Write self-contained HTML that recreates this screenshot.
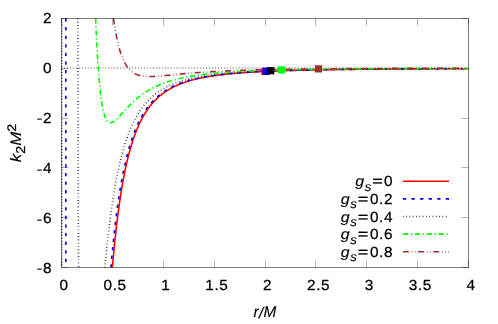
<!DOCTYPE html>
<html><head><meta charset="utf-8"><title>k2 plot</title>
<style>html,body{margin:0;padding:0;background:#fff;}svg{display:block;}</style></head>
<body>
<svg width="498" height="324" viewBox="0 0 498 324">
<rect width="498" height="324" fill="#fff"/>
<g stroke="#000" stroke-width="0.7" stroke-dasharray="1 1.96" fill="none">
<path d="M61.04 68.0H468.50"/>
<path d="M61.95 267.50V18.50" stroke-width="1" stroke-dashoffset="0.86"/>
</g>
<path d="M112.50 267.5v-7.0M112.50 18.5v7.0M163.50 267.5v-7.0M163.50 18.5v7.0M214.50 267.5v-7.0M214.50 18.5v7.0M265.50 267.5v-7.0M265.50 18.5v7.0M315.50 267.5v-7.0M315.50 18.5v7.0M366.50 267.5v-7.0M366.50 18.5v7.0M417.50 267.5v-7.0M417.50 18.5v7.0M61.5 267.5v-7.0M61.5 18.5v7.0M468.5 267.5v-7.0M468.5 18.5v7.0M61.5 18.50h7.0M468.5 18.50h-7.0M61.5 68.50h7.0M468.5 68.50h-7.0M61.5 118.50h7.0M468.5 118.50h-7.0M61.5 167.50h7.0M468.5 167.50h-7.0M61.5 217.50h7.0M468.5 217.50h-7.0M61.5 267.50h7.0M468.5 267.50h-7.0" stroke="#000" stroke-width="0.5" stroke-opacity="0.62" fill="none"/>
<g stroke="#ff0000" stroke-width="1.6" fill="none" stroke-linejoin="round">
<path d="M112.38 267.50 L112.48 266.31 L112.58 265.13 L112.68 263.96 L112.78 262.79 L112.88 261.64 L112.99 260.50 L113.09 259.36 L113.19 258.24 L113.29 257.12 L113.39 256.01 L113.49 254.91 L113.60 253.82 L113.70 252.74 L113.80 251.66 L113.90 250.60 L114.00 249.54 L114.10 248.49 L114.21 247.45 L114.31 246.41 L114.41 245.39 L114.51 244.37 L114.61 243.36 L114.72 242.36 L114.82 241.36 L114.92 240.38 L115.02 239.40 L115.12 238.42 L115.22 237.46 L115.33 236.50 L115.43 235.55 L115.53 234.61 L115.63 233.67 L115.73 232.74 L115.83 231.82 L115.94 230.91 L116.04 230.00 L116.14 229.10 L116.24 228.20 L116.34 227.31 L116.44 226.43 L116.55 225.56 L116.65 224.69 L116.75 223.82 L116.85 222.97 L116.95 222.12 L117.06 221.28 L117.16 220.44 L117.26 219.61 L117.36 218.78 L117.46 217.96 L117.56 217.15 L117.67 216.34 L117.77 215.54 L117.87 214.74 L117.97 213.95 L118.07 213.17 L118.17 212.39 L118.28 211.62 L118.38 210.85 L118.48 210.09 L118.58 209.33 L118.68 208.58 L118.79 207.83 L118.89 207.09 L118.99 206.36 L119.09 205.63 L119.19 204.90 L119.29 204.18 L119.40 203.46 L119.50 202.75 L119.60 202.05 L119.70 201.35 L119.80 200.65 L119.90 199.96 L120.01 199.28 L120.11 198.60 L120.21 197.92 L120.31 197.25 L120.41 196.58 L120.51 195.92 L120.62 195.26 L120.72 194.61 L120.82 193.96 L120.92 193.31 L121.02 192.67 L121.13 192.04 L121.23 191.41 L121.33 190.78 L121.43 190.16 L121.53 189.54 L121.63 188.92 L121.74 188.31 L121.84 187.71 L121.94 187.11 L122.04 186.51 L122.14 185.91 L122.24 185.32 L122.35 184.74 L122.45 184.16 L122.55 183.58 L122.65 183.00 L122.75 182.43 L122.86 181.87 L122.96 181.30 L123.06 180.74 L123.16 180.19 L123.26 179.64 L123.36 179.09 L123.47 178.54 L123.57 178.00 L123.67 177.46 L123.77 176.93 L123.87 176.40 L123.97 175.87 L124.08 175.35 L124.18 174.83 L124.28 174.31 L124.38 173.80 L124.48 173.29 L124.59 172.78 L124.69 172.27 L124.79 171.77 L124.89 171.28 L124.99 170.78 L125.09 170.29 L125.30 169.32 L125.50 168.36 L125.70 167.41 L125.91 166.47 L126.11 165.55 L126.31 164.63 L126.52 163.73 L126.72 162.84 L126.93 161.96 L127.13 161.09 L127.33 160.24 L127.54 159.39 L127.74 158.55 L127.94 157.73 L128.15 156.91 L128.35 156.10 L128.55 155.30 L128.76 154.52 L128.96 153.74 L129.16 152.97 L129.37 152.21 L129.57 151.46 L129.77 150.72 L129.98 149.99 L130.18 149.26 L130.38 148.55 L130.59 147.84 L130.79 147.14 L131.00 146.45 L131.20 145.77 L131.40 145.09 L131.61 144.43 L131.81 143.77 L132.01 143.12 L132.22 142.47 L132.42 141.84 L132.62 141.21 L132.83 140.58 L133.03 139.97 L133.23 139.36 L133.44 138.76 L133.64 138.17 L133.84 137.58 L134.05 137.00 L134.25 136.42 L134.45 135.85 L134.66 135.29 L134.86 134.73 L135.07 134.18 L135.27 133.64 L135.47 133.10 L135.68 132.57 L135.88 132.05 L136.08 131.52 L136.29 131.01 L136.49 130.50 L136.69 130.00 L136.90 129.50 L137.10 129.01 L137.30 128.52 L137.51 128.04 L137.71 127.56 L137.91 127.09 L138.12 126.62 L138.32 126.16 L138.52 125.70 L138.83 125.02 L139.14 124.36 L139.44 123.70 L139.75 123.05 L140.05 122.42 L140.36 121.79 L140.66 121.18 L140.97 120.57 L141.27 119.97 L141.58 119.38 L141.88 118.80 L142.19 118.23 L142.49 117.67 L142.80 117.12 L143.10 116.57 L143.41 116.03 L143.71 115.50 L144.02 114.98 L144.32 114.47 L144.63 113.96 L144.94 113.46 L145.24 112.97 L145.55 112.48 L145.85 112.01 L146.16 111.53 L146.46 111.07 L146.77 110.61 L147.07 110.16 L147.38 109.72 L147.68 109.28 L147.99 108.85 L148.29 108.42 L148.60 108.00 L148.90 107.58 L149.21 107.18 L149.51 106.77 L149.82 106.38 L150.23 105.85 L150.63 105.34 L151.04 104.84 L151.45 104.34 L151.85 103.86 L152.26 103.38 L152.67 102.92 L153.07 102.46 L153.48 102.00 L153.89 101.56 L154.30 101.13 L154.70 100.70 L155.11 100.28 L155.52 99.86 L155.92 99.46 L156.33 99.06 L156.74 98.66 L157.14 98.28 L157.55 97.90 L157.96 97.53 L158.37 97.16 L158.77 96.80 L159.18 96.44 L159.59 96.10 L159.99 95.75 L160.40 95.41 L160.81 95.08 L161.22 94.76 L161.62 94.43 L162.03 94.12 L162.44 93.81 L162.84 93.50 L163.25 93.20 L163.66 92.90 L164.06 92.61 L164.57 92.25 L165.08 91.90 L165.59 91.56 L166.10 91.22 L166.61 90.89 L167.12 90.56 L167.63 90.25 L168.13 89.93 L168.64 89.63 L169.15 89.33 L169.66 89.03 L170.17 88.74 L170.68 88.46 L171.19 88.18 L171.70 87.90 L172.20 87.63 L172.71 87.37 L173.22 87.11 L173.73 86.86 L174.24 86.61 L174.75 86.36 L175.26 86.12 L175.77 85.88 L176.27 85.65 L176.78 85.42 L177.29 85.20 L177.80 84.97 L178.31 84.76 L178.82 84.54 L179.33 84.34 L179.84 84.13 L180.34 83.93 L180.85 83.73 L181.36 83.53 L181.87 83.34 L182.38 83.15 L182.89 82.96 L183.40 82.78 L183.91 82.60 L184.41 82.43 L184.92 82.25 L185.43 82.08 L185.94 81.91 L186.45 81.75 L186.96 81.58 L187.47 81.42 L187.98 81.27 L188.48 81.11 L188.99 80.96 L189.50 80.81 L190.01 80.66 L190.52 80.51 L191.03 80.37 L191.54 80.23 L192.05 80.09 L192.55 79.95 L193.06 79.82 L193.57 79.69 L194.08 79.56 L194.59 79.43 L195.10 79.30 L195.61 79.18 L196.12 79.05 L196.62 78.93 L197.13 78.81 L197.64 78.70 L198.15 78.58 L198.66 78.47 L199.17 78.35 L199.68 78.24 L200.19 78.13 L200.69 78.03 L201.20 77.92 L201.71 77.82 L202.22 77.71 L202.73 77.61 L203.24 77.51 L203.75 77.41 L204.26 77.32 L204.76 77.22 L205.27 77.13 L205.78 77.03 L206.29 76.94 L206.80 76.85 L207.31 76.76 L207.82 76.67 L208.33 76.59 L208.83 76.50 L209.34 76.42 L209.85 76.33 L210.36 76.25 L210.87 76.17 L211.38 76.09 L211.89 76.01 L212.40 75.93 L212.90 75.86 L213.41 75.78 L213.92 75.71 L214.43 75.63 L214.94 75.56 L215.45 75.49 L215.96 75.42 L216.47 75.35 L216.97 75.28 L217.48 75.21 L217.99 75.14 L218.50 75.08 L219.01 75.01 L219.52 74.95 L220.03 74.88 L220.54 74.82 L221.04 74.76 L221.55 74.70 L222.06 74.64 L222.57 74.58 L223.08 74.52 L223.59 74.46 L224.10 74.40 L224.61 74.35 L225.11 74.29 L225.62 74.23 L226.13 74.18 L226.64 74.12 L227.15 74.07 L227.66 74.02 L228.17 73.97 L228.68 73.91 L229.18 73.86 L229.69 73.81 L230.20 73.76 L230.71 73.71 L231.22 73.67 L231.73 73.62 L232.24 73.57 L232.75 73.52 L233.25 73.48 L233.76 73.43 L234.27 73.39 L234.78 73.34 L235.29 73.30 L235.80 73.25 L236.31 73.21 L236.82 73.17 L237.32 73.13 L237.83 73.08 L238.34 73.04 L238.85 73.00 L239.36 72.96 L239.87 72.92 L240.38 72.88 L240.89 72.84 L241.39 72.81 L241.90 72.77 L242.41 72.73 L242.92 72.69 L243.43 72.66 L243.94 72.62 L244.45 72.58 L244.96 72.55 L245.46 72.51 L245.97 72.48 L246.48 72.44 L246.99 72.41 L247.50 72.38 L248.01 72.34 L248.52 72.31 L249.03 72.28 L249.53 72.25 L250.04 72.21 L250.55 72.18 L251.06 72.15 L251.57 72.12 L252.08 72.09 L252.59 72.06 L253.10 72.03 L253.60 72.00 L254.11 71.97 L254.62 71.94 L255.13 71.91 L255.64 71.88 L256.15 71.86 L256.66 71.83 L257.17 71.80 L257.67 71.77 L258.18 71.75 L258.69 71.72 L259.20 71.69 L259.71 71.67 L260.22 71.64 L260.73 71.62 L261.24 71.59 L261.74 71.57 L262.25 71.54 L262.76 71.52 L263.27 71.49 L263.78 71.47 L264.29 71.45 L264.80 71.42 L265.31 71.40 L265.81 71.38 L266.32 71.35 L266.83 71.33 L267.34 71.31 L267.85 71.29 L268.36 71.26 L268.87 71.24 L269.38 71.22 L269.88 71.20 L270.39 71.18 L270.90 71.16 L271.41 71.14 L271.92 71.12 L272.43 71.10 L272.94 71.07 L273.45 71.06 L273.95 71.04 L274.46 71.02 L274.97 71.00 L275.48 70.98 L275.99 70.96 L276.50 70.94 L277.01 70.92 L277.52 70.90 L278.02 70.88 L278.53 70.87 L279.04 70.85 L279.55 70.83 L280.06 70.81 L280.57 70.79 L281.08 70.78 L281.59 70.76 L282.09 70.74 L282.60 70.73 L283.11 70.71 L283.62 70.69 L284.13 70.68 L284.64 70.66 L285.15 70.64 L285.66 70.63 L286.16 70.61 L286.67 70.60 L287.18 70.58 L287.69 70.57 L288.20 70.55 L288.71 70.54 L289.22 70.52 L289.73 70.51 L290.23 70.49 L290.74 70.48 L291.25 70.46 L291.76 70.45 L292.27 70.43 L292.78 70.42 L293.29 70.41 L293.80 70.39 L294.30 70.38 L294.81 70.37 L295.32 70.35 L295.83 70.34 L296.34 70.33 L296.85 70.31 L297.36 70.30 L297.87 70.29 L298.37 70.27 L298.88 70.26 L299.39 70.25 L299.90 70.24 L300.41 70.22 L300.92 70.21 L301.43 70.20 L301.94 70.19 L302.44 70.18 L302.95 70.16 L303.46 70.15 L303.97 70.14 L304.48 70.13 L304.99 70.12 L305.50 70.11 L306.01 70.09 L306.51 70.08 L307.02 70.07 L307.53 70.06 L308.04 70.05 L308.55 70.04 L309.06 70.03 L309.57 70.02 L310.08 70.01 L310.58 70.00 L311.09 69.99 L311.60 69.98 L312.11 69.97 L312.62 69.96 L313.13 69.95 L313.64 69.94 L314.15 69.93 L314.65 69.92 L315.16 69.91 L315.67 69.90 L316.18 69.89 L316.69 69.88 L317.20 69.87 L317.71 69.86 L318.22 69.85 L318.72 69.84 L319.23 69.83 L319.74 69.82 L320.25 69.81 L320.76 69.81 L321.27 69.80 L321.78 69.79 L322.29 69.78 L322.79 69.77 L323.30 69.76 L323.81 69.75 L324.32 69.74 L324.83 69.74 L325.34 69.73 L325.85 69.72 L326.36 69.71 L326.86 69.70 L327.37 69.70 L327.88 69.69 L328.39 69.68 L328.90 69.67 L329.41 69.66 L329.92 69.66 L330.43 69.65 L330.93 69.64 L331.44 69.63 L331.95 69.63 L332.46 69.62 L332.97 69.61 L333.48 69.60 L333.99 69.60 L334.50 69.59 L335.00 69.58 L335.51 69.57 L336.02 69.57 L336.53 69.56 L337.04 69.55 L337.55 69.55 L338.06 69.54 L338.57 69.53 L339.07 69.53 L339.58 69.52 L340.09 69.51 L340.60 69.51 L341.11 69.50 L341.62 69.49 L342.13 69.49 L342.64 69.48 L343.14 69.47 L343.65 69.47 L344.16 69.46 L344.67 69.46 L345.18 69.45 L345.69 69.44 L346.20 69.44 L346.71 69.43 L347.21 69.42 L347.72 69.42 L348.23 69.41 L348.74 69.41 L349.25 69.40 L349.76 69.40 L350.27 69.39 L350.78 69.38 L351.28 69.38 L351.79 69.37 L352.30 69.37 L352.81 69.36 L353.32 69.36 L353.83 69.35 L354.34 69.34 L354.85 69.34 L355.35 69.33 L355.86 69.33 L356.37 69.32 L356.88 69.32 L357.39 69.31 L357.90 69.31 L358.41 69.30 L358.92 69.30 L359.42 69.29 L359.93 69.29 L360.44 69.28 L360.95 69.28 L361.46 69.27 L361.97 69.27 L362.48 69.26 L362.99 69.26 L363.49 69.25 L364.00 69.25 L364.51 69.24 L365.02 69.24 L365.53 69.23 L366.04 69.23 L366.55 69.22 L367.06 69.22 L367.56 69.21 L368.07 69.21 L368.58 69.21 L369.09 69.20 L369.60 69.20 L370.11 69.19 L370.62 69.19 L371.13 69.18 L371.63 69.18 L372.14 69.18 L372.65 69.17 L373.16 69.17 L373.67 69.16 L374.18 69.16 L374.69 69.15 L375.20 69.15 L375.70 69.15 L376.21 69.14 L376.72 69.14 L377.23 69.13 L377.74 69.13 L378.25 69.13 L378.76 69.12 L379.27 69.12 L379.77 69.11 L380.28 69.11 L380.79 69.11 L381.30 69.10 L381.81 69.10 L382.32 69.09 L382.83 69.09 L383.34 69.09 L383.84 69.08 L384.35 69.08 L384.86 69.08 L385.37 69.07 L385.88 69.07 L386.39 69.06 L386.90 69.06 L387.41 69.06 L387.91 69.05 L388.42 69.05 L388.93 69.05 L389.44 69.04 L389.95 69.04 L390.46 69.04 L390.97 69.03 L391.48 69.03 L391.98 69.03 L392.49 69.02 L393.00 69.02 L393.51 69.02 L394.02 69.01 L394.53 69.01 L395.04 69.01 L395.55 69.00 L396.05 69.00 L396.56 69.00 L397.07 68.99 L397.58 68.99 L398.09 68.99 L398.60 68.98 L399.11 68.98 L399.62 68.98 L400.12 68.98 L400.63 68.97 L401.14 68.97 L401.65 68.97 L402.16 68.96 L402.67 68.96 L403.18 68.96 L403.69 68.95 L404.19 68.95 L404.70 68.95 L405.21 68.95 L405.72 68.94 L406.23 68.94 L406.74 68.94 L407.25 68.93 L407.76 68.93 L408.26 68.93 L408.77 68.93 L409.28 68.92 L409.79 68.92 L410.30 68.92 L410.81 68.92 L411.32 68.91 L411.83 68.91 L412.33 68.91 L412.84 68.90 L413.35 68.90 L413.86 68.90 L414.37 68.90 L414.88 68.89 L415.39 68.89 L415.90 68.89 L416.40 68.89 L416.91 68.88 L417.42 68.88 L417.93 68.88 L418.44 68.88 L418.95 68.87 L419.46 68.87 L419.97 68.87 L420.47 68.87 L420.98 68.86 L421.49 68.86 L422.00 68.86 L422.51 68.86 L423.02 68.86 L423.53 68.85 L424.04 68.85 L424.54 68.85 L425.05 68.85 L425.56 68.84 L426.07 68.84 L426.58 68.84 L427.09 68.84 L427.60 68.83 L428.11 68.83 L428.61 68.83 L429.12 68.83 L429.63 68.83 L430.14 68.82 L430.65 68.82 L431.16 68.82 L431.67 68.82 L432.18 68.82 L432.68 68.81 L433.19 68.81 L433.70 68.81 L434.21 68.81 L434.72 68.80 L435.23 68.80 L435.74 68.80 L436.25 68.80 L436.75 68.80 L437.26 68.79 L437.77 68.79 L438.28 68.79 L438.79 68.79 L439.30 68.79 L439.81 68.78 L440.32 68.78 L440.82 68.78 L441.33 68.78 L441.84 68.78 L442.35 68.77 L442.86 68.77 L443.37 68.77 L443.88 68.77 L444.39 68.77 L444.89 68.77 L445.40 68.76 L445.91 68.76 L446.42 68.76 L446.93 68.76 L447.44 68.76 L447.95 68.75 L448.46 68.75 L448.96 68.75 L449.47 68.75 L449.98 68.75 L450.49 68.75 L451.00 68.74 L451.51 68.74 L452.02 68.74 L452.53 68.74 L453.03 68.74 L453.54 68.74 L454.05 68.73 L454.56 68.73 L455.07 68.73 L455.58 68.73 L456.09 68.73 L456.60 68.73 L457.10 68.72 L457.61 68.72 L458.12 68.72 L458.63 68.72 L459.14 68.72 L459.65 68.72 L460.16 68.71 L460.67 68.71 L461.17 68.71 L461.68 68.71 L462.19 68.71 L462.70 68.71 L463.21 68.70 L463.72 68.70 L464.23 68.70 L464.74 68.70 L465.24 68.70 L465.75 68.70 L466.26 68.70 L466.77 68.69 L467.28 68.69 L467.79 68.69 L468.30 68.69 L468.50 68.69"/>
<path d="M402.9 181.30H449.0"/>
</g>
<g stroke="#0000ff" stroke-width="1.6" fill="none" stroke-linejoin="round" stroke-dasharray="3.30 5.28">
<path d="M65.85 18.50 L65.85 66.12 L65.85 267.50"/>
<path d="M110.92 267.50 L111.05 266.00 L111.15 264.82 L111.26 263.65 L111.36 262.49 L111.46 261.34 L111.56 260.20 L111.66 259.07 L111.76 257.95 L111.87 256.83 L111.97 255.73 L112.07 254.63 L112.17 253.54 L112.27 252.46 L112.38 251.39 L112.48 250.33 L112.58 249.27 L112.68 248.22 L112.78 247.19 L112.88 246.15 L112.99 245.13 L113.09 244.12 L113.19 243.11 L113.29 242.11 L113.39 241.12 L113.49 240.13 L113.60 239.16 L113.70 238.19 L113.80 237.22 L113.90 236.27 L114.00 235.32 L114.10 234.38 L114.21 233.45 L114.31 232.52 L114.41 231.60 L114.51 230.69 L114.61 229.78 L114.72 228.88 L114.82 227.99 L114.92 227.10 L115.02 226.22 L115.12 225.35 L115.22 224.48 L115.33 223.62 L115.43 222.76 L115.53 221.92 L115.63 221.08 L115.73 220.24 L115.83 219.41 L115.94 218.59 L116.04 217.77 L116.14 216.96 L116.24 216.15 L116.34 215.35 L116.44 214.56 L116.55 213.77 L116.65 212.99 L116.75 212.21 L116.85 211.44 L116.95 210.67 L117.06 209.91 L117.16 209.15 L117.26 208.40 L117.36 207.66 L117.46 206.92 L117.56 206.18 L117.67 205.46 L117.77 204.73 L117.87 204.01 L117.97 203.30 L118.07 202.59 L118.17 201.89 L118.28 201.19 L118.38 200.49 L118.48 199.80 L118.58 199.12 L118.68 198.44 L118.79 197.76 L118.89 197.09 L118.99 196.43 L119.09 195.77 L119.19 195.11 L119.29 194.46 L119.40 193.81 L119.50 193.17 L119.60 192.53 L119.70 191.89 L119.80 191.26 L119.90 190.64 L120.01 190.01 L120.11 189.40 L120.21 188.78 L120.31 188.17 L120.41 187.57 L120.51 186.97 L120.62 186.37 L120.72 185.78 L120.82 185.19 L120.92 184.60 L121.02 184.02 L121.13 183.44 L121.23 182.87 L121.33 182.30 L121.43 181.73 L121.53 181.17 L121.63 180.61 L121.74 180.06 L121.84 179.51 L121.94 178.96 L122.04 178.42 L122.14 177.87 L122.24 177.34 L122.35 176.80 L122.45 176.27 L122.55 175.75 L122.65 175.22 L122.75 174.70 L122.86 174.19 L122.96 173.67 L123.06 173.16 L123.16 172.66 L123.26 172.16 L123.36 171.65 L123.47 171.16 L123.57 170.66 L123.67 170.17 L123.87 169.20 L124.08 168.24 L124.28 167.30 L124.48 166.36 L124.69 165.44 L124.89 164.52 L125.09 163.62 L125.30 162.73 L125.50 161.86 L125.70 160.99 L125.91 160.13 L126.11 159.28 L126.31 158.45 L126.52 157.62 L126.72 156.81 L126.93 156.00 L127.13 155.20 L127.33 154.42 L127.54 153.64 L127.74 152.87 L127.94 152.11 L128.15 151.36 L128.35 150.62 L128.55 149.89 L128.76 149.17 L128.96 148.45 L129.16 147.75 L129.37 147.05 L129.57 146.36 L129.77 145.68 L129.98 145.00 L130.18 144.34 L130.38 143.68 L130.59 143.03 L130.79 142.38 L131.00 141.75 L131.20 141.12 L131.40 140.50 L131.61 139.88 L131.81 139.27 L132.01 138.67 L132.22 138.08 L132.42 137.49 L132.62 136.91 L132.83 136.34 L133.03 135.77 L133.23 135.21 L133.44 134.65 L133.64 134.10 L133.84 133.56 L134.05 133.02 L134.25 132.49 L134.45 131.96 L134.66 131.44 L134.86 130.93 L135.07 130.42 L135.27 129.92 L135.47 129.42 L135.68 128.93 L135.88 128.44 L136.08 127.96 L136.29 127.48 L136.49 127.01 L136.69 126.54 L136.90 126.08 L137.10 125.62 L137.41 124.94 L137.71 124.28 L138.02 123.62 L138.32 122.98 L138.63 122.34 L138.93 121.72 L139.24 121.10 L139.54 120.49 L139.85 119.90 L140.15 119.31 L140.46 118.73 L140.76 118.16 L141.07 117.59 L141.37 117.04 L141.68 116.49 L141.98 115.96 L142.29 115.43 L142.59 114.91 L142.90 114.39 L143.21 113.89 L143.51 113.39 L143.82 112.89 L144.12 112.41 L144.43 111.93 L144.73 111.46 L145.04 111.00 L145.34 110.54 L145.65 110.09 L145.95 109.64 L146.26 109.21 L146.56 108.77 L146.87 108.35 L147.17 107.93 L147.48 107.51 L147.78 107.10 L148.09 106.70 L148.39 106.30 L148.80 105.78 L149.21 105.27 L149.62 104.77 L150.02 104.27 L150.43 103.79 L150.84 103.31 L151.24 102.85 L151.65 102.39 L152.06 101.94 L152.46 101.49 L152.87 101.06 L153.28 100.63 L153.69 100.21 L154.09 99.79 L154.50 99.39 L154.91 98.99 L155.31 98.60 L155.72 98.21 L156.13 97.83 L156.53 97.46 L156.94 97.09 L157.35 96.73 L157.76 96.38 L158.16 96.03 L158.57 95.68 L158.98 95.35 L159.38 95.02 L159.79 94.69 L160.20 94.37 L160.60 94.05 L161.01 93.74 L161.42 93.43 L161.83 93.13 L162.23 92.84 L162.64 92.55 L163.15 92.19 L163.66 91.84 L164.17 91.49 L164.67 91.15 L165.18 90.82 L165.69 90.50 L166.20 90.18 L166.71 89.87 L167.22 89.56 L167.73 89.26 L168.24 88.97 L168.74 88.68 L169.25 88.39 L169.76 88.11 L170.27 87.84 L170.78 87.57 L171.29 87.31 L171.80 87.05 L172.31 86.79 L172.81 86.54 L173.32 86.30 L173.83 86.06 L174.34 85.82 L174.85 85.59 L175.36 85.36 L175.87 85.13 L176.38 84.91 L176.88 84.70 L177.39 84.48 L177.90 84.27 L178.41 84.07 L178.92 83.87 L179.43 83.67 L179.94 83.47 L180.45 83.28 L180.95 83.09 L181.46 82.90 L181.97 82.72 L182.48 82.54 L182.99 82.37 L183.50 82.19 L184.01 82.02 L184.52 81.85 L185.02 81.69 L185.53 81.52 L186.04 81.36 L186.55 81.21 L187.06 81.05 L187.57 80.90 L188.08 80.75 L188.59 80.60 L189.09 80.45 L189.60 80.31 L190.11 80.17 L190.62 80.03 L191.13 79.90 L191.64 79.76 L192.15 79.63 L192.66 79.50 L193.16 79.37 L193.67 79.24 L194.18 79.12 L194.69 79.00 L195.20 78.87 L195.71 78.76 L196.22 78.64 L196.73 78.52 L197.23 78.41 L197.74 78.30 L198.25 78.19 L198.76 78.08 L199.27 77.97 L199.78 77.86 L200.29 77.76 L200.80 77.66 L201.30 77.56 L201.81 77.46 L202.32 77.36 L202.83 77.26 L203.34 77.17 L203.85 77.07 L204.36 76.98 L204.87 76.89 L205.37 76.80 L205.88 76.71 L206.39 76.62 L206.90 76.53 L207.41 76.45 L207.92 76.36 L208.43 76.28 L208.94 76.20 L209.44 76.12 L209.95 76.04 L210.46 75.96 L210.97 75.88 L211.48 75.80 L211.99 75.73 L212.50 75.65 L213.01 75.58 L213.51 75.51 L214.02 75.44 L214.53 75.37 L215.04 75.30 L215.55 75.23 L216.06 75.16 L216.57 75.09 L217.08 75.03 L217.58 74.96 L218.09 74.90 L218.60 74.83 L219.11 74.77 L219.62 74.71 L220.13 74.65 L220.64 74.59 L221.15 74.53 L221.65 74.47 L222.16 74.41 L222.67 74.35 L223.18 74.30 L223.69 74.24 L224.20 74.18 L224.71 74.13 L225.22 74.07 L225.72 74.02 L226.23 73.97 L226.74 73.92 L227.25 73.87 L227.76 73.81 L228.27 73.76 L228.78 73.71 L229.29 73.67 L229.79 73.62 L230.30 73.57 L230.81 73.52 L231.32 73.48 L231.83 73.43 L232.34 73.38 L232.85 73.34 L233.36 73.29 L233.86 73.25 L234.37 73.21 L234.88 73.16 L235.39 73.12 L235.90 73.08 L236.41 73.04 L236.92 73.00 L237.43 72.96 L237.93 72.92 L238.44 72.88 L238.95 72.84 L239.46 72.80 L239.97 72.76 L240.48 72.72 L240.99 72.68 L241.50 72.65 L242.00 72.61 L242.51 72.57 L243.02 72.54 L243.53 72.50 L244.04 72.47 L244.55 72.43 L245.06 72.40 L245.57 72.36 L246.07 72.33 L246.58 72.30 L247.09 72.27 L247.60 72.23 L248.11 72.20 L248.62 72.17 L249.13 72.14 L249.64 72.11 L250.14 72.08 L250.65 72.05 L251.16 72.02 L251.67 71.99 L252.18 71.96 L252.69 71.93 L253.20 71.90 L253.71 71.87 L254.21 71.84 L254.72 71.81 L255.23 71.79 L255.74 71.76 L256.25 71.73 L256.76 71.70 L257.27 71.68 L257.78 71.65 L258.28 71.63 L258.79 71.60 L259.30 71.57 L259.81 71.55 L260.32 71.52 L260.83 71.50 L261.34 71.48 L261.85 71.45 L262.35 71.43 L262.86 71.40 L263.37 71.38 L263.88 71.36 L264.39 71.33 L264.90 71.31 L265.41 71.29 L265.92 71.27 L266.42 71.24 L266.93 71.22 L267.44 71.20 L267.95 71.18 L268.46 71.16 L268.97 71.14 L269.48 71.12 L269.99 71.10 L270.49 71.08 L271.00 71.05 L271.51 71.03 L272.02 71.01 L272.53 71.00 L273.04 70.98 L273.55 70.96 L274.06 70.94 L274.56 70.92 L275.07 70.90 L275.58 70.88 L276.09 70.86 L276.60 70.84 L277.11 70.83 L277.62 70.81 L278.13 70.79 L278.63 70.77 L279.14 70.76 L279.65 70.74 L280.16 70.72 L280.67 70.70 L281.18 70.69 L281.69 70.67 L282.20 70.65 L282.70 70.64 L283.21 70.62 L283.72 70.61 L284.23 70.59 L284.74 70.57 L285.25 70.56 L285.76 70.54 L286.27 70.53 L286.77 70.51 L287.28 70.50 L287.79 70.48 L288.30 70.47 L288.81 70.45 L289.32 70.44 L289.83 70.43 L290.34 70.41 L290.84 70.40 L291.35 70.38 L291.86 70.37 L292.37 70.36 L292.88 70.34 L293.39 70.33 L293.90 70.32 L294.41 70.30 L294.91 70.29 L295.42 70.28 L295.93 70.26 L296.44 70.25 L296.95 70.24 L297.46 70.22 L297.97 70.21 L298.48 70.20 L298.98 70.19 L299.49 70.18 L300.00 70.16 L300.51 70.15 L301.02 70.14 L301.53 70.13 L302.04 70.12 L302.55 70.10 L303.05 70.09 L303.56 70.08 L304.07 70.07 L304.58 70.06 L305.09 70.05 L305.60 70.04 L306.11 70.03 L306.62 70.02 L307.12 70.00 L307.63 69.99 L308.14 69.98 L308.65 69.97 L309.16 69.96 L309.67 69.95 L310.18 69.94 L310.69 69.93 L311.19 69.92 L311.70 69.91 L312.21 69.90 L312.72 69.89 L313.23 69.88 L313.74 69.87 L314.25 69.86 L314.76 69.85 L315.26 69.84 L315.77 69.84 L316.28 69.83 L316.79 69.82 L317.30 69.81 L317.81 69.80 L318.32 69.79 L318.83 69.78 L319.33 69.77 L319.84 69.76 L320.35 69.75 L320.86 69.75 L321.37 69.74 L321.88 69.73 L322.39 69.72 L322.90 69.71 L323.40 69.70 L323.91 69.70 L324.42 69.69 L324.93 69.68 L325.44 69.67 L325.95 69.66 L326.46 69.66 L326.97 69.65 L327.47 69.64 L327.98 69.63 L328.49 69.62 L329.00 69.62 L329.51 69.61 L330.02 69.60 L330.53 69.59 L331.04 69.59 L331.54 69.58 L332.05 69.57 L332.56 69.56 L333.07 69.56 L333.58 69.55 L334.09 69.54 L334.60 69.54 L335.11 69.53 L335.61 69.52 L336.12 69.52 L336.63 69.51 L337.14 69.50 L337.65 69.50 L338.16 69.49 L338.67 69.48 L339.18 69.48 L339.68 69.47 L340.19 69.46 L340.70 69.46 L341.21 69.45 L341.72 69.44 L342.23 69.44 L342.74 69.43 L343.25 69.42 L343.75 69.42 L344.26 69.41 L344.77 69.41 L345.28 69.40 L345.79 69.39 L346.30 69.39 L346.81 69.38 L347.32 69.38 L347.82 69.37 L348.33 69.36 L348.84 69.36 L349.35 69.35 L349.86 69.35 L350.37 69.34 L350.88 69.34 L351.39 69.33 L351.89 69.33 L352.40 69.32 L352.91 69.31 L353.42 69.31 L353.93 69.30 L354.44 69.30 L354.95 69.29 L355.46 69.29 L355.96 69.28 L356.47 69.28 L356.98 69.27 L357.49 69.27 L358.00 69.26 L358.51 69.26 L359.02 69.25 L359.53 69.25 L360.03 69.24 L360.54 69.24 L361.05 69.23 L361.56 69.23 L362.07 69.22 L362.58 69.22 L363.09 69.21 L363.60 69.21 L364.10 69.20 L364.61 69.20 L365.12 69.20 L365.63 69.19 L366.14 69.19 L366.65 69.18 L367.16 69.18 L367.67 69.17 L368.17 69.17 L368.68 69.16 L369.19 69.16 L369.70 69.16 L370.21 69.15 L370.72 69.15 L371.23 69.14 L371.74 69.14 L372.24 69.13 L372.75 69.13 L373.26 69.13 L373.77 69.12 L374.28 69.12 L374.79 69.11 L375.30 69.11 L375.81 69.11 L376.31 69.10 L376.82 69.10 L377.33 69.09 L377.84 69.09 L378.35 69.09 L378.86 69.08 L379.37 69.08 L379.88 69.07 L380.38 69.07 L380.89 69.07 L381.40 69.06 L381.91 69.06 L382.42 69.06 L382.93 69.05 L383.44 69.05 L383.95 69.05 L384.45 69.04 L384.96 69.04 L385.47 69.03 L385.98 69.03 L386.49 69.03 L387.00 69.02 L387.51 69.02 L388.02 69.02 L388.52 69.01 L389.03 69.01 L389.54 69.01 L390.05 69.00 L390.56 69.00 L391.07 69.00 L391.58 68.99 L392.09 68.99 L392.59 68.99 L393.10 68.98 L393.61 68.98 L394.12 68.98 L394.63 68.97 L395.14 68.97 L395.65 68.97 L396.16 68.96 L396.66 68.96 L397.17 68.96 L397.68 68.96 L398.19 68.95 L398.70 68.95 L399.21 68.95 L399.72 68.94 L400.23 68.94 L400.73 68.94 L401.24 68.93 L401.75 68.93 L402.26 68.93 L402.77 68.93 L403.28 68.92 L403.79 68.92 L404.30 68.92 L404.80 68.91 L405.31 68.91 L405.82 68.91 L406.33 68.91 L406.84 68.90 L407.35 68.90 L407.86 68.90 L408.37 68.90 L408.87 68.89 L409.38 68.89 L409.89 68.89 L410.40 68.88 L410.91 68.88 L411.42 68.88 L411.93 68.88 L412.44 68.87 L412.94 68.87 L413.45 68.87 L413.96 68.87 L414.47 68.86 L414.98 68.86 L415.49 68.86 L416.00 68.86 L416.51 68.85 L417.01 68.85 L417.52 68.85 L418.03 68.85 L418.54 68.84 L419.05 68.84 L419.56 68.84 L420.07 68.84 L420.58 68.84 L421.08 68.83 L421.59 68.83 L422.10 68.83 L422.61 68.83 L423.12 68.82 L423.63 68.82 L424.14 68.82 L424.65 68.82 L425.15 68.81 L425.66 68.81 L426.17 68.81 L426.68 68.81 L427.19 68.81 L427.70 68.80 L428.21 68.80 L428.72 68.80 L429.22 68.80 L429.73 68.80 L430.24 68.79 L430.75 68.79 L431.26 68.79 L431.77 68.79 L432.28 68.79 L432.79 68.78 L433.29 68.78 L433.80 68.78 L434.31 68.78 L434.82 68.77 L435.33 68.77 L435.84 68.77 L436.35 68.77 L436.86 68.77 L437.36 68.77 L437.87 68.76 L438.38 68.76 L438.89 68.76 L439.40 68.76 L439.91 68.76 L440.42 68.75 L440.93 68.75 L441.43 68.75 L441.94 68.75 L442.45 68.75 L442.96 68.74 L443.47 68.74 L443.98 68.74 L444.49 68.74 L445.00 68.74 L445.50 68.74 L446.01 68.73 L446.52 68.73 L447.03 68.73 L447.54 68.73 L448.05 68.73 L448.56 68.72 L449.07 68.72 L449.57 68.72 L450.08 68.72 L450.59 68.72 L451.10 68.72 L451.61 68.71 L452.12 68.71 L452.63 68.71 L453.14 68.71 L453.64 68.71 L454.15 68.71 L454.66 68.70 L455.17 68.70 L455.68 68.70 L456.19 68.70 L456.70 68.70 L457.21 68.70 L457.71 68.69 L458.22 68.69 L458.73 68.69 L459.24 68.69 L459.75 68.69 L460.26 68.69 L460.77 68.69 L461.28 68.68 L461.78 68.68 L462.29 68.68 L462.80 68.68 L463.31 68.68 L463.82 68.68 L464.33 68.68 L464.84 68.67 L465.35 68.67 L465.85 68.67 L466.36 68.67 L466.87 68.67 L467.38 68.67 L467.89 68.67 L468.40 68.66 L468.50 68.66"/>
<path d="M402.9 198.90H449.0"/>
</g>
<g stroke="#000000" stroke-width="1.6" fill="none" stroke-linejoin="round" stroke-dasharray="0.66 2.64">
<path d="M77.81 18.50 L77.83 26.85 L77.93 65.83 L78.03 102.90 L78.13 138.16 L78.24 171.69 L78.34 203.57 L78.44 233.87 L78.54 262.67 L78.56 267.50"/>
<path d="M104.93 267.50 L105.05 266.24 L105.15 265.13 L105.25 264.03 L105.35 262.93 L105.46 261.84 L105.56 260.77 L105.66 259.69 L105.76 258.63 L105.86 257.57 L105.96 256.52 L106.07 255.48 L106.17 254.44 L106.27 253.41 L106.37 252.39 L106.47 251.38 L106.58 250.37 L106.68 249.37 L106.78 248.38 L106.88 247.39 L106.98 246.41 L107.08 245.44 L107.19 244.47 L107.29 243.52 L107.39 242.56 L107.49 241.62 L107.59 240.68 L107.69 239.74 L107.80 238.82 L107.90 237.90 L108.00 236.98 L108.10 236.07 L108.20 235.17 L108.31 234.28 L108.41 233.39 L108.51 232.50 L108.61 231.62 L108.71 230.75 L108.81 229.89 L108.92 229.03 L109.02 228.17 L109.12 227.32 L109.22 226.48 L109.32 225.64 L109.42 224.81 L109.53 223.99 L109.63 223.17 L109.73 222.35 L109.83 221.54 L109.93 220.74 L110.03 219.94 L110.14 219.15 L110.24 218.36 L110.34 217.58 L110.44 216.80 L110.54 216.03 L110.65 215.26 L110.75 214.50 L110.85 213.74 L110.95 212.99 L111.05 212.24 L111.15 211.50 L111.26 210.76 L111.36 210.03 L111.46 209.30 L111.56 208.58 L111.66 207.86 L111.76 207.15 L111.87 206.44 L111.97 205.73 L112.07 205.04 L112.17 204.34 L112.27 203.65 L112.38 202.96 L112.48 202.28 L112.58 201.61 L112.68 200.93 L112.78 200.26 L112.88 199.60 L112.99 198.94 L113.09 198.29 L113.19 197.63 L113.29 196.99 L113.39 196.34 L113.49 195.71 L113.60 195.07 L113.70 194.44 L113.80 193.81 L113.90 193.19 L114.00 192.57 L114.10 191.96 L114.21 191.35 L114.31 190.74 L114.41 190.14 L114.51 189.54 L114.61 188.94 L114.72 188.35 L114.82 187.76 L114.92 187.18 L115.02 186.60 L115.12 186.02 L115.22 185.45 L115.33 184.88 L115.43 184.31 L115.53 183.75 L115.63 183.19 L115.73 182.64 L115.83 182.09 L115.94 181.54 L116.04 180.99 L116.14 180.45 L116.24 179.91 L116.34 179.38 L116.44 178.84 L116.55 178.32 L116.65 177.79 L116.75 177.27 L116.85 176.75 L116.95 176.23 L117.06 175.72 L117.16 175.21 L117.26 174.71 L117.36 174.20 L117.46 173.70 L117.56 173.21 L117.67 172.71 L117.77 172.22 L117.97 171.25 L118.17 170.29 L118.38 169.34 L118.58 168.40 L118.79 167.48 L118.99 166.56 L119.19 165.65 L119.40 164.76 L119.60 163.88 L119.80 163.01 L120.01 162.14 L120.21 161.29 L120.41 160.45 L120.62 159.62 L120.82 158.79 L121.02 157.98 L121.23 157.18 L121.43 156.38 L121.63 155.60 L121.84 154.82 L122.04 154.06 L122.24 153.30 L122.45 152.55 L122.65 151.81 L122.86 151.08 L123.06 150.35 L123.26 149.64 L123.47 148.93 L123.67 148.23 L123.87 147.54 L124.08 146.85 L124.28 146.18 L124.48 145.51 L124.69 144.85 L124.89 144.19 L125.09 143.55 L125.30 142.91 L125.50 142.28 L125.70 141.65 L125.91 141.03 L126.11 140.42 L126.31 139.82 L126.52 139.22 L126.72 138.63 L126.93 138.04 L127.13 137.46 L127.33 136.89 L127.54 136.32 L127.74 135.76 L127.94 135.21 L128.15 134.66 L128.35 134.12 L128.55 133.58 L128.76 133.05 L128.96 132.52 L129.16 132.00 L129.37 131.49 L129.57 130.98 L129.77 130.48 L129.98 129.98 L130.18 129.49 L130.38 129.00 L130.59 128.51 L130.79 128.04 L131.00 127.56 L131.20 127.10 L131.40 126.63 L131.61 126.17 L131.91 125.50 L132.22 124.83 L132.52 124.17 L132.83 123.52 L133.13 122.88 L133.44 122.25 L133.74 121.63 L134.05 121.02 L134.35 120.42 L134.66 119.83 L134.96 119.25 L135.27 118.67 L135.57 118.11 L135.88 117.55 L136.18 117.00 L136.49 116.46 L136.80 115.93 L137.10 115.40 L137.41 114.88 L137.71 114.37 L138.02 113.87 L138.32 113.37 L138.63 112.88 L138.93 112.40 L139.24 111.92 L139.54 111.46 L139.85 110.99 L140.15 110.54 L140.46 110.09 L140.76 109.65 L141.07 109.21 L141.37 108.78 L141.68 108.35 L141.98 107.93 L142.29 107.52 L142.59 107.11 L142.90 106.71 L143.21 106.31 L143.61 105.79 L144.02 105.28 L144.43 104.78 L144.83 104.29 L145.24 103.80 L145.65 103.33 L146.05 102.86 L146.46 102.40 L146.87 101.95 L147.28 101.51 L147.68 101.07 L148.09 100.64 L148.50 100.22 L148.90 99.81 L149.31 99.40 L149.72 99.00 L150.12 98.61 L150.53 98.22 L150.94 97.84 L151.35 97.47 L151.75 97.10 L152.16 96.74 L152.57 96.38 L152.97 96.03 L153.38 95.69 L153.79 95.35 L154.19 95.02 L154.60 94.69 L155.01 94.37 L155.42 94.05 L155.82 93.74 L156.23 93.43 L156.64 93.13 L157.04 92.83 L157.45 92.54 L157.96 92.18 L158.47 91.82 L158.98 91.48 L159.49 91.14 L159.99 90.81 L160.50 90.48 L161.01 90.16 L161.52 89.84 L162.03 89.54 L162.54 89.23 L163.05 88.94 L163.56 88.65 L164.06 88.36 L164.57 88.08 L165.08 87.80 L165.59 87.53 L166.10 87.27 L166.61 87.01 L167.12 86.75 L167.63 86.50 L168.13 86.25 L168.64 86.01 L169.15 85.77 L169.66 85.54 L170.17 85.31 L170.68 85.08 L171.19 84.86 L171.70 84.64 L172.20 84.43 L172.71 84.22 L173.22 84.01 L173.73 83.80 L174.24 83.60 L174.75 83.41 L175.26 83.21 L175.77 83.02 L176.27 82.84 L176.78 82.65 L177.29 82.47 L177.80 82.29 L178.31 82.12 L178.82 81.95 L179.33 81.78 L179.84 81.61 L180.34 81.45 L180.85 81.29 L181.36 81.13 L181.87 80.97 L182.38 80.82 L182.89 80.67 L183.40 80.52 L183.91 80.37 L184.41 80.23 L184.92 80.08 L185.43 79.94 L185.94 79.81 L186.45 79.67 L186.96 79.54 L187.47 79.41 L187.98 79.28 L188.48 79.15 L188.99 79.03 L189.50 78.90 L190.01 78.78 L190.52 78.66 L191.03 78.54 L191.54 78.43 L192.05 78.31 L192.55 78.20 L193.06 78.09 L193.57 77.98 L194.08 77.87 L194.59 77.76 L195.10 77.66 L195.61 77.55 L196.12 77.45 L196.62 77.35 L197.13 77.25 L197.64 77.16 L198.15 77.06 L198.66 76.97 L199.17 76.87 L199.68 76.78 L200.19 76.69 L200.69 76.60 L201.20 76.51 L201.71 76.42 L202.22 76.34 L202.73 76.25 L203.24 76.17 L203.75 76.09 L204.26 76.01 L204.76 75.93 L205.27 75.85 L205.78 75.77 L206.29 75.69 L206.80 75.62 L207.31 75.54 L207.82 75.47 L208.33 75.39 L208.83 75.32 L209.34 75.25 L209.85 75.18 L210.36 75.11 L210.87 75.04 L211.38 74.98 L211.89 74.91 L212.40 74.84 L212.90 74.78 L213.41 74.72 L213.92 74.65 L214.43 74.59 L214.94 74.53 L215.45 74.47 L215.96 74.41 L216.47 74.35 L216.97 74.29 L217.48 74.23 L217.99 74.17 L218.50 74.12 L219.01 74.06 L219.52 74.01 L220.03 73.95 L220.54 73.90 L221.04 73.85 L221.55 73.80 L222.06 73.74 L222.57 73.69 L223.08 73.64 L223.59 73.59 L224.10 73.54 L224.61 73.49 L225.11 73.45 L225.62 73.40 L226.13 73.35 L226.64 73.31 L227.15 73.26 L227.66 73.22 L228.17 73.17 L228.68 73.13 L229.18 73.08 L229.69 73.04 L230.20 73.00 L230.71 72.96 L231.22 72.91 L231.73 72.87 L232.24 72.83 L232.75 72.79 L233.25 72.75 L233.76 72.71 L234.27 72.67 L234.78 72.64 L235.29 72.60 L235.80 72.56 L236.31 72.52 L236.82 72.49 L237.32 72.45 L237.83 72.41 L238.34 72.38 L238.85 72.34 L239.36 72.31 L239.87 72.27 L240.38 72.24 L240.89 72.21 L241.39 72.17 L241.90 72.14 L242.41 72.11 L242.92 72.08 L243.43 72.04 L243.94 72.01 L244.45 71.98 L244.96 71.95 L245.46 71.92 L245.97 71.89 L246.48 71.86 L246.99 71.83 L247.50 71.80 L248.01 71.77 L248.52 71.75 L249.03 71.72 L249.53 71.69 L250.04 71.66 L250.55 71.63 L251.06 71.61 L251.57 71.58 L252.08 71.55 L252.59 71.53 L253.10 71.50 L253.60 71.48 L254.11 71.45 L254.62 71.43 L255.13 71.40 L255.64 71.38 L256.15 71.35 L256.66 71.33 L257.17 71.30 L257.67 71.28 L258.18 71.26 L258.69 71.23 L259.20 71.21 L259.71 71.19 L260.22 71.17 L260.73 71.14 L261.24 71.12 L261.74 71.10 L262.25 71.08 L262.76 71.06 L263.27 71.04 L263.78 71.01 L264.29 70.99 L264.80 70.97 L265.31 70.95 L265.81 70.93 L266.32 70.91 L266.83 70.89 L267.34 70.87 L267.85 70.85 L268.36 70.84 L268.87 70.82 L269.38 70.80 L269.88 70.78 L270.39 70.76 L270.90 70.74 L271.41 70.72 L271.92 70.71 L272.43 70.69 L272.94 70.67 L273.45 70.65 L273.95 70.64 L274.46 70.62 L274.97 70.60 L275.48 70.59 L275.99 70.57 L276.50 70.55 L277.01 70.54 L277.52 70.52 L278.02 70.50 L278.53 70.49 L279.04 70.47 L279.55 70.46 L280.06 70.44 L280.57 70.43 L281.08 70.41 L281.59 70.40 L282.09 70.38 L282.60 70.37 L283.11 70.35 L283.62 70.34 L284.13 70.32 L284.64 70.31 L285.15 70.29 L285.66 70.28 L286.16 70.27 L286.67 70.25 L287.18 70.24 L287.69 70.23 L288.20 70.21 L288.71 70.20 L289.22 70.19 L289.73 70.17 L290.23 70.16 L290.74 70.15 L291.25 70.13 L291.76 70.12 L292.27 70.11 L292.78 70.10 L293.29 70.08 L293.80 70.07 L294.30 70.06 L294.81 70.05 L295.32 70.04 L295.83 70.02 L296.34 70.01 L296.85 70.00 L297.36 69.99 L297.87 69.98 L298.37 69.97 L298.88 69.96 L299.39 69.95 L299.90 69.93 L300.41 69.92 L300.92 69.91 L301.43 69.90 L301.94 69.89 L302.44 69.88 L302.95 69.87 L303.46 69.86 L303.97 69.85 L304.48 69.84 L304.99 69.83 L305.50 69.82 L306.01 69.81 L306.51 69.80 L307.02 69.79 L307.53 69.78 L308.04 69.77 L308.55 69.76 L309.06 69.75 L309.57 69.74 L310.08 69.73 L310.58 69.72 L311.09 69.72 L311.60 69.71 L312.11 69.70 L312.62 69.69 L313.13 69.68 L313.64 69.67 L314.15 69.66 L314.65 69.65 L315.16 69.65 L315.67 69.64 L316.18 69.63 L316.69 69.62 L317.20 69.61 L317.71 69.60 L318.22 69.60 L318.72 69.59 L319.23 69.58 L319.74 69.57 L320.25 69.56 L320.76 69.56 L321.27 69.55 L321.78 69.54 L322.29 69.53 L322.79 69.52 L323.30 69.52 L323.81 69.51 L324.32 69.50 L324.83 69.49 L325.34 69.49 L325.85 69.48 L326.36 69.47 L326.86 69.47 L327.37 69.46 L327.88 69.45 L328.39 69.44 L328.90 69.44 L329.41 69.43 L329.92 69.42 L330.43 69.42 L330.93 69.41 L331.44 69.40 L331.95 69.40 L332.46 69.39 L332.97 69.38 L333.48 69.38 L333.99 69.37 L334.50 69.36 L335.00 69.36 L335.51 69.35 L336.02 69.35 L336.53 69.34 L337.04 69.33 L337.55 69.33 L338.06 69.32 L338.57 69.32 L339.07 69.31 L339.58 69.30 L340.09 69.30 L340.60 69.29 L341.11 69.29 L341.62 69.28 L342.13 69.27 L342.64 69.27 L343.14 69.26 L343.65 69.26 L344.16 69.25 L344.67 69.25 L345.18 69.24 L345.69 69.24 L346.20 69.23 L346.71 69.22 L347.21 69.22 L347.72 69.21 L348.23 69.21 L348.74 69.20 L349.25 69.20 L349.76 69.19 L350.27 69.19 L350.78 69.18 L351.28 69.18 L351.79 69.17 L352.30 69.17 L352.81 69.16 L353.32 69.16 L353.83 69.15 L354.34 69.15 L354.85 69.14 L355.35 69.14 L355.86 69.13 L356.37 69.13 L356.88 69.13 L357.39 69.12 L357.90 69.12 L358.41 69.11 L358.92 69.11 L359.42 69.10 L359.93 69.10 L360.44 69.09 L360.95 69.09 L361.46 69.08 L361.97 69.08 L362.48 69.08 L362.99 69.07 L363.49 69.07 L364.00 69.06 L364.51 69.06 L365.02 69.06 L365.53 69.05 L366.04 69.05 L366.55 69.04 L367.06 69.04 L367.56 69.03 L368.07 69.03 L368.58 69.03 L369.09 69.02 L369.60 69.02 L370.11 69.01 L370.62 69.01 L371.13 69.01 L371.63 69.00 L372.14 69.00 L372.65 69.00 L373.16 68.99 L373.67 68.99 L374.18 68.98 L374.69 68.98 L375.20 68.98 L375.70 68.97 L376.21 68.97 L376.72 68.97 L377.23 68.96 L377.74 68.96 L378.25 68.96 L378.76 68.95 L379.27 68.95 L379.77 68.95 L380.28 68.94 L380.79 68.94 L381.30 68.94 L381.81 68.93 L382.32 68.93 L382.83 68.93 L383.34 68.92 L383.84 68.92 L384.35 68.92 L384.86 68.91 L385.37 68.91 L385.88 68.91 L386.39 68.90 L386.90 68.90 L387.41 68.90 L387.91 68.89 L388.42 68.89 L388.93 68.89 L389.44 68.88 L389.95 68.88 L390.46 68.88 L390.97 68.87 L391.48 68.87 L391.98 68.87 L392.49 68.87 L393.00 68.86 L393.51 68.86 L394.02 68.86 L394.53 68.85 L395.04 68.85 L395.55 68.85 L396.05 68.85 L396.56 68.84 L397.07 68.84 L397.58 68.84 L398.09 68.83 L398.60 68.83 L399.11 68.83 L399.62 68.83 L400.12 68.82 L400.63 68.82 L401.14 68.82 L401.65 68.82 L402.16 68.81 L402.67 68.81 L403.18 68.81 L403.69 68.81 L404.19 68.80 L404.70 68.80 L405.21 68.80 L405.72 68.80 L406.23 68.79 L406.74 68.79 L407.25 68.79 L407.76 68.79 L408.26 68.78 L408.77 68.78 L409.28 68.78 L409.79 68.78 L410.30 68.77 L410.81 68.77 L411.32 68.77 L411.83 68.77 L412.33 68.76 L412.84 68.76 L413.35 68.76 L413.86 68.76 L414.37 68.76 L414.88 68.75 L415.39 68.75 L415.90 68.75 L416.40 68.75 L416.91 68.74 L417.42 68.74 L417.93 68.74 L418.44 68.74 L418.95 68.74 L419.46 68.73 L419.97 68.73 L420.47 68.73 L420.98 68.73 L421.49 68.72 L422.00 68.72 L422.51 68.72 L423.02 68.72 L423.53 68.72 L424.04 68.71 L424.54 68.71 L425.05 68.71 L425.56 68.71 L426.07 68.71 L426.58 68.70 L427.09 68.70 L427.60 68.70 L428.11 68.70 L428.61 68.70 L429.12 68.69 L429.63 68.69 L430.14 68.69 L430.65 68.69 L431.16 68.69 L431.67 68.69 L432.18 68.68 L432.68 68.68 L433.19 68.68 L433.70 68.68 L434.21 68.68 L434.72 68.67 L435.23 68.67 L435.74 68.67 L436.25 68.67 L436.75 68.67 L437.26 68.67 L437.77 68.66 L438.28 68.66 L438.79 68.66 L439.30 68.66 L439.81 68.66 L440.32 68.66 L440.82 68.65 L441.33 68.65 L441.84 68.65 L442.35 68.65 L442.86 68.65 L443.37 68.65 L443.88 68.64 L444.39 68.64 L444.89 68.64 L445.40 68.64 L445.91 68.64 L446.42 68.64 L446.93 68.63 L447.44 68.63 L447.95 68.63 L448.46 68.63 L448.96 68.63 L449.47 68.63 L449.98 68.62 L450.49 68.62 L451.00 68.62 L451.51 68.62 L452.02 68.62 L452.53 68.62 L453.03 68.62 L453.54 68.61 L454.05 68.61 L454.56 68.61 L455.07 68.61 L455.58 68.61 L456.09 68.61 L456.60 68.61 L457.10 68.60 L457.61 68.60 L458.12 68.60 L458.63 68.60 L459.14 68.60 L459.65 68.60 L460.16 68.60 L460.67 68.59 L461.17 68.59 L461.68 68.59 L462.19 68.59 L462.70 68.59 L463.21 68.59 L463.72 68.59 L464.23 68.59 L464.74 68.58 L465.24 68.58 L465.75 68.58 L466.26 68.58 L466.77 68.58 L467.28 68.58 L467.79 68.58 L468.30 68.58 L468.50 68.57"/>
<path d="M402.9 216.50H449.0"/>
</g>
<g stroke="#00ff00" stroke-width="1.6" fill="none" stroke-linejoin="round" stroke-dasharray="5.28 2.64 1.32 2.64">
<path d="M95.68 18.50 L95.79 21.30 L95.89 23.74 L95.99 26.13 L96.09 28.46 L96.20 30.75 L96.30 32.98 L96.40 35.17 L96.50 37.31 L96.60 39.40 L96.71 41.45 L96.81 43.45 L96.91 45.42 L97.01 47.33 L97.11 49.21 L97.21 51.05 L97.32 52.84 L97.42 54.60 L97.52 56.32 L97.62 58.00 L97.72 59.64 L97.82 61.25 L97.93 62.83 L98.03 64.37 L98.13 65.87 L98.23 67.35 L98.33 68.79 L98.44 70.19 L98.54 71.57 L98.64 72.92 L98.74 74.24 L98.84 75.53 L98.94 76.79 L99.05 78.02 L99.15 79.22 L99.25 80.40 L99.35 81.55 L99.45 82.68 L99.55 83.78 L99.66 84.86 L99.76 85.91 L99.86 86.94 L99.96 87.94 L100.06 88.92 L100.16 89.88 L100.27 90.82 L100.37 91.74 L100.47 92.63 L100.57 93.51 L100.67 94.36 L100.78 95.20 L100.88 96.01 L100.98 96.81 L101.08 97.59 L101.18 98.35 L101.28 99.09 L101.39 99.82 L101.49 100.52 L101.59 101.21 L101.69 101.89 L101.79 102.54 L101.89 103.19 L102.00 103.81 L102.10 104.42 L102.20 105.02 L102.30 105.60 L102.40 106.17 L102.51 106.72 L102.61 107.26 L102.71 107.79 L102.81 108.30 L102.91 108.80 L103.12 109.76 L103.32 110.68 L103.52 111.54 L103.73 112.37 L103.93 113.14 L104.13 113.88 L104.34 114.57 L104.54 115.23 L104.74 115.85 L104.95 116.44 L105.15 116.99 L105.35 117.51 L105.56 117.99 L105.86 118.66 L106.17 119.27 L106.47 119.82 L106.78 120.31 L107.08 120.75 L107.49 121.25 L107.90 121.67 L108.31 122.01 L108.81 122.34 L109.32 122.57 L109.83 122.71 L110.34 122.77 L110.85 122.75 L111.36 122.67 L111.87 122.52 L112.38 122.33 L112.88 122.08 L113.39 121.80 L113.90 121.47 L114.41 121.11 L114.82 120.80 L115.22 120.47 L115.63 120.12 L116.04 119.76 L116.44 119.39 L116.85 119.01 L117.26 118.61 L117.67 118.21 L118.07 117.80 L118.48 117.38 L118.89 116.95 L119.29 116.52 L119.70 116.08 L120.11 115.64 L120.51 115.20 L120.92 114.75 L121.33 114.31 L121.74 113.86 L122.14 113.41 L122.55 112.95 L122.96 112.50 L123.36 112.05 L123.77 111.60 L124.18 111.15 L124.59 110.70 L124.99 110.26 L125.40 109.81 L125.81 109.37 L126.21 108.93 L126.62 108.49 L127.03 108.06 L127.43 107.62 L127.84 107.19 L128.25 106.77 L128.66 106.34 L129.06 105.92 L129.47 105.51 L129.88 105.10 L130.28 104.69 L130.69 104.28 L131.10 103.88 L131.50 103.48 L131.91 103.09 L132.32 102.70 L132.72 102.31 L133.13 101.93 L133.54 101.55 L133.95 101.18 L134.35 100.81 L134.76 100.44 L135.17 100.08 L135.57 99.72 L135.98 99.37 L136.39 99.02 L136.80 98.67 L137.20 98.33 L137.61 97.99 L138.02 97.66 L138.42 97.33 L138.83 97.00 L139.24 96.68 L139.64 96.36 L140.05 96.05 L140.46 95.74 L140.87 95.43 L141.27 95.13 L141.68 94.83 L142.09 94.54 L142.49 94.24 L143.00 93.88 L143.51 93.53 L144.02 93.18 L144.53 92.84 L145.04 92.50 L145.55 92.17 L146.05 91.84 L146.56 91.52 L147.07 91.20 L147.58 90.89 L148.09 90.58 L148.60 90.28 L149.11 89.98 L149.62 89.69 L150.12 89.40 L150.63 89.12 L151.14 88.84 L151.65 88.57 L152.16 88.30 L152.67 88.03 L153.18 87.77 L153.69 87.51 L154.19 87.26 L154.70 87.01 L155.21 86.77 L155.72 86.52 L156.23 86.29 L156.74 86.05 L157.25 85.82 L157.76 85.60 L158.26 85.37 L158.77 85.15 L159.28 84.94 L159.79 84.72 L160.30 84.51 L160.81 84.31 L161.32 84.11 L161.83 83.91 L162.33 83.71 L162.84 83.51 L163.35 83.32 L163.86 83.14 L164.37 82.95 L164.88 82.77 L165.39 82.59 L165.90 82.41 L166.40 82.24 L166.91 82.07 L167.42 81.90 L167.93 81.73 L168.44 81.57 L168.95 81.41 L169.46 81.25 L169.97 81.09 L170.47 80.94 L170.98 80.79 L171.49 80.64 L172.00 80.49 L172.51 80.35 L173.02 80.20 L173.53 80.06 L174.04 79.92 L174.54 79.79 L175.05 79.65 L175.56 79.52 L176.07 79.39 L176.58 79.26 L177.09 79.13 L177.60 79.01 L178.11 78.88 L178.61 78.76 L179.12 78.64 L179.63 78.52 L180.14 78.41 L180.65 78.29 L181.16 78.18 L181.67 78.07 L182.18 77.96 L182.68 77.85 L183.19 77.74 L183.70 77.64 L184.21 77.53 L184.72 77.43 L185.23 77.33 L185.74 77.23 L186.25 77.13 L186.75 77.03 L187.26 76.94 L187.77 76.84 L188.28 76.75 L188.79 76.66 L189.30 76.57 L189.81 76.48 L190.32 76.39 L190.82 76.30 L191.33 76.22 L191.84 76.13 L192.35 76.05 L192.86 75.97 L193.37 75.89 L193.88 75.81 L194.39 75.73 L194.89 75.65 L195.40 75.57 L195.91 75.50 L196.42 75.42 L196.93 75.35 L197.44 75.27 L197.95 75.20 L198.46 75.13 L198.96 75.06 L199.47 74.99 L199.98 74.92 L200.49 74.85 L201.00 74.79 L201.51 74.72 L202.02 74.66 L202.53 74.59 L203.03 74.53 L203.54 74.47 L204.05 74.40 L204.56 74.34 L205.07 74.28 L205.58 74.22 L206.09 74.16 L206.60 74.11 L207.10 74.05 L207.61 73.99 L208.12 73.94 L208.63 73.88 L209.14 73.83 L209.65 73.77 L210.16 73.72 L210.67 73.67 L211.17 73.61 L211.68 73.56 L212.19 73.51 L212.70 73.46 L213.21 73.41 L213.72 73.36 L214.23 73.31 L214.74 73.27 L215.24 73.22 L215.75 73.17 L216.26 73.13 L216.77 73.08 L217.28 73.04 L217.79 72.99 L218.30 72.95 L218.81 72.90 L219.31 72.86 L219.82 72.82 L220.33 72.78 L220.84 72.74 L221.35 72.69 L221.86 72.65 L222.37 72.61 L222.88 72.57 L223.38 72.53 L223.89 72.50 L224.40 72.46 L224.91 72.42 L225.42 72.38 L225.93 72.35 L226.44 72.31 L226.95 72.27 L227.45 72.24 L227.96 72.20 L228.47 72.17 L228.98 72.13 L229.49 72.10 L230.00 72.06 L230.51 72.03 L231.02 72.00 L231.52 71.96 L232.03 71.93 L232.54 71.90 L233.05 71.87 L233.56 71.84 L234.07 71.81 L234.58 71.77 L235.09 71.74 L235.59 71.71 L236.10 71.68 L236.61 71.66 L237.12 71.63 L237.63 71.60 L238.14 71.57 L238.65 71.54 L239.16 71.51 L239.66 71.49 L240.17 71.46 L240.68 71.43 L241.19 71.40 L241.70 71.38 L242.21 71.35 L242.72 71.33 L243.23 71.30 L243.73 71.28 L244.24 71.25 L244.75 71.23 L245.26 71.20 L245.77 71.18 L246.28 71.15 L246.79 71.13 L247.30 71.10 L247.80 71.08 L248.31 71.06 L248.82 71.04 L249.33 71.01 L249.84 70.99 L250.35 70.97 L250.86 70.95 L251.37 70.92 L251.87 70.90 L252.38 70.88 L252.89 70.86 L253.40 70.84 L253.91 70.82 L254.42 70.80 L254.93 70.78 L255.44 70.76 L255.94 70.74 L256.45 70.72 L256.96 70.70 L257.47 70.68 L257.98 70.66 L258.49 70.64 L259.00 70.62 L259.51 70.60 L260.01 70.59 L260.52 70.57 L261.03 70.55 L261.54 70.53 L262.05 70.51 L262.56 70.50 L263.07 70.48 L263.58 70.46 L264.08 70.45 L264.59 70.43 L265.10 70.41 L265.61 70.40 L266.12 70.38 L266.63 70.36 L267.14 70.35 L267.65 70.33 L268.15 70.31 L268.66 70.30 L269.17 70.28 L269.68 70.27 L270.19 70.25 L270.70 70.24 L271.21 70.22 L271.72 70.21 L272.22 70.19 L272.73 70.18 L273.24 70.17 L273.75 70.15 L274.26 70.14 L274.77 70.12 L275.28 70.11 L275.79 70.10 L276.29 70.08 L276.80 70.07 L277.31 70.05 L277.82 70.04 L278.33 70.03 L278.84 70.02 L279.35 70.00 L279.86 69.99 L280.36 69.98 L280.87 69.96 L281.38 69.95 L281.89 69.94 L282.40 69.93 L282.91 69.92 L283.42 69.90 L283.93 69.89 L284.43 69.88 L284.94 69.87 L285.45 69.86 L285.96 69.84 L286.47 69.83 L286.98 69.82 L287.49 69.81 L288.00 69.80 L288.50 69.79 L289.01 69.78 L289.52 69.77 L290.03 69.76 L290.54 69.75 L291.05 69.74 L291.56 69.72 L292.07 69.71 L292.57 69.70 L293.08 69.69 L293.59 69.68 L294.10 69.67 L294.61 69.66 L295.12 69.65 L295.63 69.64 L296.14 69.63 L296.64 69.62 L297.15 69.62 L297.66 69.61 L298.17 69.60 L298.68 69.59 L299.19 69.58 L299.70 69.57 L300.21 69.56 L300.71 69.55 L301.22 69.54 L301.73 69.53 L302.24 69.52 L302.75 69.52 L303.26 69.51 L303.77 69.50 L304.28 69.49 L304.78 69.48 L305.29 69.47 L305.80 69.47 L306.31 69.46 L306.82 69.45 L307.33 69.44 L307.84 69.43 L308.35 69.42 L308.85 69.42 L309.36 69.41 L309.87 69.40 L310.38 69.39 L310.89 69.39 L311.40 69.38 L311.91 69.37 L312.42 69.36 L312.92 69.36 L313.43 69.35 L313.94 69.34 L314.45 69.33 L314.96 69.33 L315.47 69.32 L315.98 69.31 L316.49 69.31 L316.99 69.30 L317.50 69.29 L318.01 69.29 L318.52 69.28 L319.03 69.27 L319.54 69.27 L320.05 69.26 L320.56 69.25 L321.06 69.25 L321.57 69.24 L322.08 69.23 L322.59 69.23 L323.10 69.22 L323.61 69.21 L324.12 69.21 L324.63 69.20 L325.13 69.20 L325.64 69.19 L326.15 69.18 L326.66 69.18 L327.17 69.17 L327.68 69.17 L328.19 69.16 L328.70 69.15 L329.20 69.15 L329.71 69.14 L330.22 69.14 L330.73 69.13 L331.24 69.13 L331.75 69.12 L332.26 69.11 L332.77 69.11 L333.27 69.10 L333.78 69.10 L334.29 69.09 L334.80 69.09 L335.31 69.08 L335.82 69.08 L336.33 69.07 L336.84 69.07 L337.34 69.06 L337.85 69.06 L338.36 69.05 L338.87 69.05 L339.38 69.04 L339.89 69.04 L340.40 69.03 L340.91 69.03 L341.41 69.02 L341.92 69.02 L342.43 69.01 L342.94 69.01 L343.45 69.00 L343.96 69.00 L344.47 68.99 L344.98 68.99 L345.48 68.98 L345.99 68.98 L346.50 68.98 L347.01 68.97 L347.52 68.97 L348.03 68.96 L348.54 68.96 L349.05 68.95 L349.55 68.95 L350.06 68.94 L350.57 68.94 L351.08 68.94 L351.59 68.93 L352.10 68.93 L352.61 68.92 L353.12 68.92 L353.62 68.92 L354.13 68.91 L354.64 68.91 L355.15 68.90 L355.66 68.90 L356.17 68.90 L356.68 68.89 L357.19 68.89 L357.69 68.88 L358.20 68.88 L358.71 68.88 L359.22 68.87 L359.73 68.87 L360.24 68.87 L360.75 68.86 L361.26 68.86 L361.76 68.85 L362.27 68.85 L362.78 68.85 L363.29 68.84 L363.80 68.84 L364.31 68.84 L364.82 68.83 L365.33 68.83 L365.83 68.83 L366.34 68.82 L366.85 68.82 L367.36 68.82 L367.87 68.81 L368.38 68.81 L368.89 68.81 L369.40 68.80 L369.90 68.80 L370.41 68.80 L370.92 68.79 L371.43 68.79 L371.94 68.79 L372.45 68.78 L372.96 68.78 L373.47 68.78 L373.97 68.77 L374.48 68.77 L374.99 68.77 L375.50 68.77 L376.01 68.76 L376.52 68.76 L377.03 68.76 L377.54 68.75 L378.04 68.75 L378.55 68.75 L379.06 68.74 L379.57 68.74 L380.08 68.74 L380.59 68.74 L381.10 68.73 L381.61 68.73 L382.11 68.73 L382.62 68.72 L383.13 68.72 L383.64 68.72 L384.15 68.72 L384.66 68.71 L385.17 68.71 L385.68 68.71 L386.18 68.71 L386.69 68.70 L387.20 68.70 L387.71 68.70 L388.22 68.70 L388.73 68.69 L389.24 68.69 L389.75 68.69 L390.25 68.69 L390.76 68.68 L391.27 68.68 L391.78 68.68 L392.29 68.68 L392.80 68.67 L393.31 68.67 L393.82 68.67 L394.32 68.67 L394.83 68.66 L395.34 68.66 L395.85 68.66 L396.36 68.66 L396.87 68.65 L397.38 68.65 L397.89 68.65 L398.39 68.65 L398.90 68.65 L399.41 68.64 L399.92 68.64 L400.43 68.64 L400.94 68.64 L401.45 68.63 L401.96 68.63 L402.46 68.63 L402.97 68.63 L403.48 68.63 L403.99 68.62 L404.50 68.62 L405.01 68.62 L405.52 68.62 L406.03 68.62 L406.53 68.61 L407.04 68.61 L407.55 68.61 L408.06 68.61 L408.57 68.60 L409.08 68.60 L409.59 68.60 L410.10 68.60 L410.60 68.60 L411.11 68.60 L411.62 68.59 L412.13 68.59 L412.64 68.59 L413.15 68.59 L413.66 68.59 L414.17 68.58 L414.67 68.58 L415.18 68.58 L415.69 68.58 L416.20 68.58 L416.71 68.57 L417.22 68.57 L417.73 68.57 L418.24 68.57 L418.74 68.57 L419.25 68.57 L419.76 68.56 L420.27 68.56 L420.78 68.56 L421.29 68.56 L421.80 68.56 L422.31 68.56 L422.81 68.55 L423.32 68.55 L423.83 68.55 L424.34 68.55 L424.85 68.55 L425.36 68.55 L425.87 68.54 L426.38 68.54 L426.88 68.54 L427.39 68.54 L427.90 68.54 L428.41 68.54 L428.92 68.53 L429.43 68.53 L429.94 68.53 L430.45 68.53 L430.95 68.53 L431.46 68.53 L431.97 68.52 L432.48 68.52 L432.99 68.52 L433.50 68.52 L434.01 68.52 L434.52 68.52 L435.02 68.52 L435.53 68.51 L436.04 68.51 L436.55 68.51 L437.06 68.51 L437.57 68.51 L438.08 68.51 L438.59 68.51 L439.09 68.50 L439.60 68.50 L440.11 68.50 L440.62 68.50 L441.13 68.50 L441.64 68.50 L442.15 68.50 L442.66 68.49 L443.16 68.49 L443.67 68.49 L444.18 68.49 L444.69 68.49 L445.20 68.49 L445.71 68.49 L446.22 68.49 L446.73 68.48 L447.23 68.48 L447.74 68.48 L448.25 68.48 L448.76 68.48 L449.27 68.48 L449.78 68.48 L450.29 68.48 L450.80 68.47 L451.30 68.47 L451.81 68.47 L452.32 68.47 L452.83 68.47 L453.34 68.47 L453.85 68.47 L454.36 68.47 L454.87 68.46 L455.37 68.46 L455.88 68.46 L456.39 68.46 L456.90 68.46 L457.41 68.46 L457.92 68.46 L458.43 68.46 L458.94 68.46 L459.44 68.45 L459.95 68.45 L460.46 68.45 L460.97 68.45 L461.48 68.45 L461.99 68.45 L462.50 68.45 L463.01 68.45 L463.51 68.45 L464.02 68.44 L464.53 68.44 L465.04 68.44 L465.55 68.44 L466.06 68.44 L466.57 68.44 L467.08 68.44 L467.58 68.44 L468.09 68.44 L468.50 68.44"/>
<path d="M402.9 234.10H449.0"/>
</g>
<g stroke="#a52a2a" stroke-width="1.6" fill="none" stroke-linejoin="round" stroke-dasharray="5.94 2.64 0.66 2.64 0.66 2.64">
<path d="M113.53 18.50 L113.70 19.67 L113.80 20.39 L113.90 21.10 L114.00 21.80 L114.10 22.49 L114.21 23.17 L114.31 23.84 L114.41 24.51 L114.51 25.16 L114.61 25.81 L114.72 26.45 L114.82 27.08 L114.92 27.71 L115.02 28.33 L115.12 28.93 L115.22 29.54 L115.33 30.13 L115.43 30.72 L115.53 31.30 L115.63 31.87 L115.73 32.43 L115.83 32.99 L115.94 33.54 L116.04 34.09 L116.14 34.63 L116.24 35.16 L116.34 35.68 L116.44 36.20 L116.55 36.71 L116.65 37.22 L116.75 37.72 L116.85 38.21 L117.06 39.18 L117.26 40.12 L117.46 41.04 L117.67 41.94 L117.87 42.82 L118.07 43.68 L118.28 44.51 L118.48 45.33 L118.68 46.12 L118.89 46.90 L119.09 47.66 L119.29 48.40 L119.50 49.12 L119.70 49.82 L119.90 50.51 L120.11 51.18 L120.31 51.84 L120.51 52.47 L120.72 53.10 L120.92 53.71 L121.13 54.30 L121.33 54.88 L121.53 55.45 L121.74 56.00 L121.94 56.54 L122.14 57.06 L122.35 57.58 L122.55 58.08 L122.75 58.57 L122.96 59.05 L123.16 59.51 L123.47 60.19 L123.77 60.84 L124.08 61.47 L124.38 62.08 L124.69 62.67 L124.99 63.23 L125.30 63.78 L125.60 64.30 L125.91 64.81 L126.21 65.30 L126.52 65.77 L126.82 66.22 L127.13 66.66 L127.43 67.08 L127.74 67.49 L128.15 68.01 L128.55 68.50 L128.96 68.97 L129.37 69.42 L129.77 69.84 L130.18 70.24 L130.59 70.63 L131.00 70.99 L131.40 71.34 L131.81 71.67 L132.22 71.98 L132.62 72.28 L133.13 72.63 L133.64 72.95 L134.15 73.26 L134.66 73.54 L135.17 73.81 L135.68 74.06 L136.18 74.29 L136.69 74.51 L137.20 74.71 L137.71 74.89 L138.22 75.06 L138.73 75.22 L139.24 75.37 L139.75 75.51 L140.25 75.63 L140.76 75.75 L141.27 75.85 L141.78 75.95 L142.29 76.03 L142.80 76.11 L143.31 76.18 L143.82 76.24 L144.32 76.30 L144.83 76.35 L145.34 76.39 L145.85 76.43 L146.36 76.46 L146.87 76.49 L147.38 76.51 L147.89 76.52 L148.39 76.54 L148.90 76.54 L149.41 76.55 L149.92 76.55 L150.43 76.54 L150.94 76.54 L151.45 76.53 L151.96 76.52 L152.46 76.50 L152.97 76.48 L153.48 76.46 L153.99 76.44 L154.50 76.41 L155.01 76.38 L155.52 76.35 L156.03 76.32 L156.53 76.29 L157.04 76.26 L157.55 76.22 L158.06 76.18 L158.57 76.14 L159.08 76.10 L159.59 76.06 L160.10 76.02 L160.60 75.98 L161.11 75.93 L161.62 75.89 L162.13 75.84 L162.64 75.80 L163.15 75.75 L163.66 75.70 L164.17 75.66 L164.67 75.61 L165.18 75.56 L165.69 75.51 L166.20 75.46 L166.71 75.41 L167.22 75.36 L167.73 75.31 L168.24 75.26 L168.74 75.21 L169.25 75.16 L169.76 75.11 L170.27 75.06 L170.78 75.01 L171.29 74.95 L171.80 74.90 L172.31 74.85 L172.81 74.80 L173.32 74.75 L173.83 74.70 L174.34 74.65 L174.85 74.60 L175.36 74.55 L175.87 74.50 L176.38 74.45 L176.88 74.40 L177.39 74.35 L177.90 74.30 L178.41 74.25 L178.92 74.20 L179.43 74.15 L179.94 74.10 L180.45 74.05 L180.95 74.00 L181.46 73.96 L181.97 73.91 L182.48 73.86 L182.99 73.81 L183.50 73.77 L184.01 73.72 L184.52 73.67 L185.02 73.63 L185.53 73.58 L186.04 73.54 L186.55 73.49 L187.06 73.45 L187.57 73.40 L188.08 73.36 L188.59 73.31 L189.09 73.27 L189.60 73.23 L190.11 73.18 L190.62 73.14 L191.13 73.10 L191.64 73.06 L192.15 73.01 L192.66 72.97 L193.16 72.93 L193.67 72.89 L194.18 72.85 L194.69 72.81 L195.20 72.77 L195.71 72.73 L196.22 72.69 L196.73 72.65 L197.23 72.62 L197.74 72.58 L198.25 72.54 L198.76 72.50 L199.27 72.47 L199.78 72.43 L200.29 72.39 L200.80 72.36 L201.30 72.32 L201.81 72.29 L202.32 72.25 L202.83 72.22 L203.34 72.18 L203.85 72.15 L204.36 72.11 L204.87 72.08 L205.37 72.05 L205.88 72.01 L206.39 71.98 L206.90 71.95 L207.41 71.91 L207.92 71.88 L208.43 71.85 L208.94 71.82 L209.44 71.79 L209.95 71.76 L210.46 71.73 L210.97 71.70 L211.48 71.67 L211.99 71.64 L212.50 71.61 L213.01 71.58 L213.51 71.55 L214.02 71.52 L214.53 71.49 L215.04 71.46 L215.55 71.44 L216.06 71.41 L216.57 71.38 L217.08 71.36 L217.58 71.33 L218.09 71.30 L218.60 71.28 L219.11 71.25 L219.62 71.22 L220.13 71.20 L220.64 71.17 L221.15 71.15 L221.65 71.12 L222.16 71.10 L222.67 71.07 L223.18 71.05 L223.69 71.03 L224.20 71.00 L224.71 70.98 L225.22 70.95 L225.72 70.93 L226.23 70.91 L226.74 70.89 L227.25 70.86 L227.76 70.84 L228.27 70.82 L228.78 70.80 L229.29 70.78 L229.79 70.75 L230.30 70.73 L230.81 70.71 L231.32 70.69 L231.83 70.67 L232.34 70.65 L232.85 70.63 L233.36 70.61 L233.86 70.59 L234.37 70.57 L234.88 70.55 L235.39 70.53 L235.90 70.51 L236.41 70.49 L236.92 70.47 L237.43 70.45 L237.93 70.44 L238.44 70.42 L238.95 70.40 L239.46 70.38 L239.97 70.36 L240.48 70.35 L240.99 70.33 L241.50 70.31 L242.00 70.29 L242.51 70.28 L243.02 70.26 L243.53 70.24 L244.04 70.23 L244.55 70.21 L245.06 70.19 L245.57 70.18 L246.07 70.16 L246.58 70.15 L247.09 70.13 L247.60 70.11 L248.11 70.10 L248.62 70.08 L249.13 70.07 L249.64 70.05 L250.14 70.04 L250.65 70.02 L251.16 70.01 L251.67 69.99 L252.18 69.98 L252.69 69.97 L253.20 69.95 L253.71 69.94 L254.21 69.92 L254.72 69.91 L255.23 69.90 L255.74 69.88 L256.25 69.87 L256.76 69.86 L257.27 69.84 L257.78 69.83 L258.28 69.82 L258.79 69.80 L259.30 69.79 L259.81 69.78 L260.32 69.77 L260.83 69.75 L261.34 69.74 L261.85 69.73 L262.35 69.72 L262.86 69.70 L263.37 69.69 L263.88 69.68 L264.39 69.67 L264.90 69.66 L265.41 69.65 L265.92 69.64 L266.42 69.62 L266.93 69.61 L267.44 69.60 L267.95 69.59 L268.46 69.58 L268.97 69.57 L269.48 69.56 L269.99 69.55 L270.49 69.54 L271.00 69.53 L271.51 69.52 L272.02 69.51 L272.53 69.50 L273.04 69.49 L273.55 69.48 L274.06 69.47 L274.56 69.46 L275.07 69.45 L275.58 69.44 L276.09 69.43 L276.60 69.42 L277.11 69.41 L277.62 69.40 L278.13 69.39 L278.63 69.38 L279.14 69.37 L279.65 69.36 L280.16 69.35 L280.67 69.34 L281.18 69.34 L281.69 69.33 L282.20 69.32 L282.70 69.31 L283.21 69.30 L283.72 69.29 L284.23 69.28 L284.74 69.28 L285.25 69.27 L285.76 69.26 L286.27 69.25 L286.77 69.24 L287.28 69.24 L287.79 69.23 L288.30 69.22 L288.81 69.21 L289.32 69.20 L289.83 69.20 L290.34 69.19 L290.84 69.18 L291.35 69.17 L291.86 69.17 L292.37 69.16 L292.88 69.15 L293.39 69.15 L293.90 69.14 L294.41 69.13 L294.91 69.12 L295.42 69.12 L295.93 69.11 L296.44 69.10 L296.95 69.10 L297.46 69.09 L297.97 69.08 L298.48 69.08 L298.98 69.07 L299.49 69.06 L300.00 69.06 L300.51 69.05 L301.02 69.04 L301.53 69.04 L302.04 69.03 L302.55 69.02 L303.05 69.02 L303.56 69.01 L304.07 69.01 L304.58 69.00 L305.09 68.99 L305.60 68.99 L306.11 68.98 L306.62 68.98 L307.12 68.97 L307.63 68.96 L308.14 68.96 L308.65 68.95 L309.16 68.95 L309.67 68.94 L310.18 68.94 L310.69 68.93 L311.19 68.93 L311.70 68.92 L312.21 68.91 L312.72 68.91 L313.23 68.90 L313.74 68.90 L314.25 68.89 L314.76 68.89 L315.26 68.88 L315.77 68.88 L316.28 68.87 L316.79 68.87 L317.30 68.86 L317.81 68.86 L318.32 68.85 L318.83 68.85 L319.33 68.84 L319.84 68.84 L320.35 68.83 L320.86 68.83 L321.37 68.82 L321.88 68.82 L322.39 68.82 L322.90 68.81 L323.40 68.81 L323.91 68.80 L324.42 68.80 L324.93 68.79 L325.44 68.79 L325.95 68.78 L326.46 68.78 L326.97 68.78 L327.47 68.77 L327.98 68.77 L328.49 68.76 L329.00 68.76 L329.51 68.75 L330.02 68.75 L330.53 68.75 L331.04 68.74 L331.54 68.74 L332.05 68.73 L332.56 68.73 L333.07 68.73 L333.58 68.72 L334.09 68.72 L334.60 68.71 L335.11 68.71 L335.61 68.71 L336.12 68.70 L336.63 68.70 L337.14 68.69 L337.65 68.69 L338.16 68.69 L338.67 68.68 L339.18 68.68 L339.68 68.68 L340.19 68.67 L340.70 68.67 L341.21 68.67 L341.72 68.66 L342.23 68.66 L342.74 68.66 L343.25 68.65 L343.75 68.65 L344.26 68.65 L344.77 68.64 L345.28 68.64 L345.79 68.64 L346.30 68.63 L346.81 68.63 L347.32 68.63 L347.82 68.62 L348.33 68.62 L348.84 68.62 L349.35 68.61 L349.86 68.61 L350.37 68.61 L350.88 68.60 L351.39 68.60 L351.89 68.60 L352.40 68.59 L352.91 68.59 L353.42 68.59 L353.93 68.59 L354.44 68.58 L354.95 68.58 L355.46 68.58 L355.96 68.57 L356.47 68.57 L356.98 68.57 L357.49 68.57 L358.00 68.56 L358.51 68.56 L359.02 68.56 L359.53 68.55 L360.03 68.55 L360.54 68.55 L361.05 68.55 L361.56 68.54 L362.07 68.54 L362.58 68.54 L363.09 68.54 L363.60 68.53 L364.10 68.53 L364.61 68.53 L365.12 68.53 L365.63 68.52 L366.14 68.52 L366.65 68.52 L367.16 68.52 L367.67 68.51 L368.17 68.51 L368.68 68.51 L369.19 68.51 L369.70 68.50 L370.21 68.50 L370.72 68.50 L371.23 68.50 L371.74 68.50 L372.24 68.49 L372.75 68.49 L373.26 68.49 L373.77 68.49 L374.28 68.48 L374.79 68.48 L375.30 68.48 L375.81 68.48 L376.31 68.48 L376.82 68.47 L377.33 68.47 L377.84 68.47 L378.35 68.47 L378.86 68.46 L379.37 68.46 L379.88 68.46 L380.38 68.46 L380.89 68.46 L381.40 68.45 L381.91 68.45 L382.42 68.45 L382.93 68.45 L383.44 68.45 L383.95 68.44 L384.45 68.44 L384.96 68.44 L385.47 68.44 L385.98 68.44 L386.49 68.43 L387.00 68.43 L387.51 68.43 L388.02 68.43 L388.52 68.43 L389.03 68.43 L389.54 68.42 L390.05 68.42 L390.56 68.42 L391.07 68.42 L391.58 68.42 L392.09 68.41 L392.59 68.41 L393.10 68.41 L393.61 68.41 L394.12 68.41 L394.63 68.41 L395.14 68.40 L395.65 68.40 L396.16 68.40 L396.66 68.40 L397.17 68.40 L397.68 68.40 L398.19 68.39 L398.70 68.39 L399.21 68.39 L399.72 68.39 L400.23 68.39 L400.73 68.39 L401.24 68.39 L401.75 68.38 L402.26 68.38 L402.77 68.38 L403.28 68.38 L403.79 68.38 L404.30 68.38 L404.80 68.37 L405.31 68.37 L405.82 68.37 L406.33 68.37 L406.84 68.37 L407.35 68.37 L407.86 68.37 L408.37 68.36 L408.87 68.36 L409.38 68.36 L409.89 68.36 L410.40 68.36 L410.91 68.36 L411.42 68.36 L411.93 68.35 L412.44 68.35 L412.94 68.35 L413.45 68.35 L413.96 68.35 L414.47 68.35 L414.98 68.35 L415.49 68.35 L416.00 68.34 L416.51 68.34 L417.01 68.34 L417.52 68.34 L418.03 68.34 L418.54 68.34 L419.05 68.34 L419.56 68.34 L420.07 68.33 L420.58 68.33 L421.08 68.33 L421.59 68.33 L422.10 68.33 L422.61 68.33 L423.12 68.33 L423.63 68.33 L424.14 68.32 L424.65 68.32 L425.15 68.32 L425.66 68.32 L426.17 68.32 L426.68 68.32 L427.19 68.32 L427.70 68.32 L428.21 68.32 L428.72 68.31 L429.22 68.31 L429.73 68.31 L430.24 68.31 L430.75 68.31 L431.26 68.31 L431.77 68.31 L432.28 68.31 L432.79 68.31 L433.29 68.30 L433.80 68.30 L434.31 68.30 L434.82 68.30 L435.33 68.30 L435.84 68.30 L436.35 68.30 L436.86 68.30 L437.36 68.30 L437.87 68.30 L438.38 68.29 L438.89 68.29 L439.40 68.29 L439.91 68.29 L440.42 68.29 L440.93 68.29 L441.43 68.29 L441.94 68.29 L442.45 68.29 L442.96 68.29 L443.47 68.29 L443.98 68.28 L444.49 68.28 L445.00 68.28 L445.50 68.28 L446.01 68.28 L446.52 68.28 L447.03 68.28 L447.54 68.28 L448.05 68.28 L448.56 68.28 L449.07 68.28 L449.57 68.27 L450.08 68.27 L450.59 68.27 L451.10 68.27 L451.61 68.27 L452.12 68.27 L452.63 68.27 L453.14 68.27 L453.64 68.27 L454.15 68.27 L454.66 68.27 L455.17 68.27 L455.68 68.26 L456.19 68.26 L456.70 68.26 L457.21 68.26 L457.71 68.26 L458.22 68.26 L458.73 68.26 L459.24 68.26 L459.75 68.26 L460.26 68.26 L460.77 68.26 L461.28 68.26 L461.78 68.26 L462.29 68.25 L462.80 68.25 L463.31 68.25 L463.82 68.25 L464.33 68.25 L464.84 68.25 L465.35 68.25 L465.85 68.25 L466.36 68.25 L466.87 68.25 L467.38 68.25 L467.89 68.25 L468.40 68.25 L468.50 68.25"/>
<path d="M402.9 251.70H449.0"/>
</g>
<rect x="261.40" y="67.81" width="7.2" height="7.2" fill="#ff0000"/>
<rect x="262.52" y="67.66" width="7.2" height="7.2" fill="#0000ff"/>
<rect x="267.10" y="67.15" width="7.2" height="7.2" fill="#000000"/>
<rect x="277.99" y="66.35" width="7.2" height="7.2" fill="#00ff00"/>
<rect x="314.82" y="65.25" width="7.2" height="7.2" fill="#a52a2a"/>
<path d="M61.5 18.5H468.5V267.5H61.5Z" stroke="#000" stroke-width="0.5" fill="none"/>
<g font-family="Liberation Sans, sans-serif" font-size="14.6" fill="#000" stroke="#000" stroke-width="0.27" stroke-linejoin="round" text-rendering="geometricPrecision" style="opacity:0.999">
<text transform="translate(63.85 290.30) scale(1.05 1)" text-anchor="middle" >0</text>
<text transform="translate(114.72 290.30) scale(1.05 1)" text-anchor="middle" dx="0 0.75 0.35">0.5</text>
<text transform="translate(165.60 290.30) scale(1.05 1)" text-anchor="middle" >1</text>
<text transform="translate(216.47 290.30) scale(1.05 1)" text-anchor="middle" dx="0 0.75 0.35">1.5</text>
<text transform="translate(267.35 290.30) scale(1.05 1)" text-anchor="middle" >2</text>
<text transform="translate(318.23 290.30) scale(1.05 1)" text-anchor="middle" dx="0 0.75 0.35">2.5</text>
<text transform="translate(369.10 290.30) scale(1.05 1)" text-anchor="middle" >3</text>
<text transform="translate(419.98 290.30) scale(1.05 1)" text-anchor="middle" dx="0 0.75 0.35">3.5</text>
<text transform="translate(470.85 290.30) scale(1.05 1)" text-anchor="middle" >4</text>
<text transform="translate(51.60 23.30) scale(1.05 1)" text-anchor="end" >2</text>
<text transform="translate(51.60 72.70) scale(1.05 1)" text-anchor="end" >0</text>
<text transform="translate(36.45 123.10) scale(1.22 1)" stroke-width="0.1">-</text>
<text transform="translate(51.60 122.70) scale(1.05 1)" text-anchor="end" >2</text>
<text transform="translate(36.45 173.55) scale(1.22 1)" stroke-width="0.1">-</text>
<text transform="translate(51.60 173.15) scale(1.05 1)" text-anchor="end" >4</text>
<text transform="translate(36.45 223.50) scale(1.22 1)" stroke-width="0.1">-</text>
<text transform="translate(51.60 223.10) scale(1.05 1)" text-anchor="end" >6</text>
<text transform="translate(36.45 272.90) scale(1.22 1)" stroke-width="0.1">-</text>
<text transform="translate(51.60 272.50) scale(1.05 1)" text-anchor="end" >8</text>
<text transform="translate(265.0 316.8) scale(1.05 1.06)" text-anchor="middle" font-style="italic" stroke-width="0.15">r<tspan dy="0.9" dx="0.3">/</tspan><tspan dy="-0.9" dx="0.3">M</tspan></text>
<text transform="translate(21.4 143) rotate(-90) scale(1.11 1)" font-size="15.2" text-anchor="middle"><tspan font-style="italic" stroke-width="0.15">k</tspan><tspan font-size="12.92" dy="3.8">2</tspan><tspan font-style="italic" stroke-width="0.15" dy="-3.8">M</tspan><tspan font-size="12.40" dy="-5.2" dx="0.3">2</tspan></text>
<text transform="translate(392.60 186.30) scale(1.05 1)" text-anchor="end" >0</text>
<text transform="translate(377.57 186.30) scale(1.24 1)" text-anchor="middle">=</text>
<text transform="translate(355.37 186.30) scale(1.09 1)" font-style="italic" stroke-width="0.15">g</text>
<text transform="translate(364.87 190.70) scale(1.05 1)" font-style="italic" stroke-width="0.15" font-size="12.6">s</text>
<text transform="translate(392.60 203.90) scale(1.05 1)" text-anchor="end" dx="0 0.67 0.67">0.2</text>
<text transform="translate(363.02 203.90) scale(1.24 1)" text-anchor="middle">=</text>
<text transform="translate(340.82 203.90) scale(1.09 1)" font-style="italic" stroke-width="0.15">g</text>
<text transform="translate(350.32 208.30) scale(1.05 1)" font-style="italic" stroke-width="0.15" font-size="12.6">s</text>
<text transform="translate(392.60 221.50) scale(1.05 1)" text-anchor="end" dx="0 0.67 0.67">0.4</text>
<text transform="translate(363.02 221.50) scale(1.24 1)" text-anchor="middle">=</text>
<text transform="translate(340.82 221.50) scale(1.09 1)" font-style="italic" stroke-width="0.15">g</text>
<text transform="translate(350.32 225.90) scale(1.05 1)" font-style="italic" stroke-width="0.15" font-size="12.6">s</text>
<text transform="translate(392.60 239.10) scale(1.05 1)" text-anchor="end" dx="0 0.67 0.67">0.6</text>
<text transform="translate(363.02 239.10) scale(1.24 1)" text-anchor="middle">=</text>
<text transform="translate(340.82 239.10) scale(1.09 1)" font-style="italic" stroke-width="0.15">g</text>
<text transform="translate(350.32 243.50) scale(1.05 1)" font-style="italic" stroke-width="0.15" font-size="12.6">s</text>
<text transform="translate(392.60 256.70) scale(1.05 1)" text-anchor="end" dx="0 0.67 0.67">0.8</text>
<text transform="translate(363.02 256.70) scale(1.24 1)" text-anchor="middle">=</text>
<text transform="translate(340.82 256.70) scale(1.09 1)" font-style="italic" stroke-width="0.15">g</text>
<text transform="translate(350.32 261.10) scale(1.05 1)" font-style="italic" stroke-width="0.15" font-size="12.6">s</text>
</g>
</svg>
</body></html>
